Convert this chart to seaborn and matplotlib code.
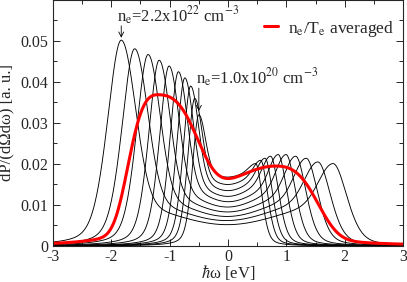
import numpy as np
import pandas as pd
import matplotlib
matplotlib.use("Agg")
import matplotlib.pyplot as plt
import seaborn as sns
from matplotlib.ticker import MultipleLocator

# peak positions / heights, outermost (n_e = 2.2e22) first
left_pos = [-1.83, -1.60, -1.37, -1.18, -1.01, -0.85, -0.74, -0.64, -0.57, -0.50]
left_height = [0.0502, 0.0481, 0.0467, 0.0453, 0.0439, 0.0425, 0.0410, 0.0390, 0.0360, 0.0320]
right_pos = [1.80, 1.54, 1.34, 1.16, 0.995, 0.86, 0.73, 0.635, 0.56, 0.475]
right_height = [0.0201, 0.0205, 0.0214, 0.0219, 0.0223, 0.0223, 0.0219, 0.0214, 0.0209, 0.0201]
dip_value = [0.0052, 0.0062, 0.0072, 0.0083, 0.0095, 0.0108, 0.0121, 0.0135, 0.0150, 0.0168]
shoulder = [0.0100, 0.0108, 0.0117, 0.0126, 0.0135, 0.0145, 0.0154, 0.0163, 0.0172, 0.0182]
peak_width = [0.24, 0.22, 0.20, 0.18, 0.165, 0.15, 0.14, 0.13, 0.12, 0.11]

# n_e/T_e averaged curve
avg_left = (-1.21, 0.0369)
avg_right = (0.82, 0.0195)
avg_dip = 0.0154
avg_shoulder = 0.0185
avg_width_in = 0.645
avg_width_out = (0.467, 0.67)


def outer_shape(u, p, eta):
    return (1 - eta) * np.exp(-0.5 * np.abs(u) ** p) + eta / (1 + (u / 1.18) ** 2)


def spectrum(x, xl, hl, xr, hr, dip, edge, s_in, s_l, s_r, p=2.0, eta=0.35):
    xm = 0.5 * (xl + xr)
    half = 0.5 * (xr - xl)
    t = np.clip((x - xm) / half, -1, 1)
    base = dip + (edge - dip) * np.sin(0.5 * np.pi * t) ** 2
    y = base + (hl - edge) * np.exp(-0.5 * np.abs((x - xl) / s_in) ** p) \
        + (hr - edge) * np.exp(-0.5 * np.abs((x - xr) / s_in) ** p)
    y = np.where(x < xl, hl * outer_shape((x - xl) / s_l, p, eta), y)
    y = np.where(x > xr, hr * outer_shape((x - xr) / s_r, p, eta), y)
    return y


x = np.linspace(-3, 3, 1501)
frames = []
for i in range(len(left_pos)):
    s = peak_width[i]
    y = spectrum(x, left_pos[i], left_height[i], right_pos[i], right_height[i],
                 dip_value[i], shoulder[i], s, s, s)
    frames.append(pd.DataFrame({"w": x, "S": y, "curve": i}))
df = pd.concat(frames, ignore_index=True)

avg = pd.DataFrame({"w": x, "S": spectrum(x, avg_left[0], avg_left[1], avg_right[0], avg_right[1],
                                          avg_dip, avg_shoulder, avg_width_in,
                                          avg_width_out[0], avg_width_out[1], p=3.2, eta=0.2)})

sns.set_style("ticks")
plt.rcParams["font.family"] = ["Liberation Serif", "DejaVu Serif"]
plt.rcParams["mathtext.fontset"] = "stix"
plt.rcParams["axes.unicode_minus"] = False

fig = plt.figure(figsize=(4.07, 2.82), dpi=100)
ax = fig.add_axes([0.1302, 0.1277, 0.8600, 0.8723])

sns.lineplot(data=df, x="w", y="S", units="curve", estimator=None, color="black",
             lw=0.65, ax=ax, legend=False)
sns.lineplot(data=avg, x="w", y="S", color="#ff0000", lw=2.2, ax=ax,
             label=r"n$_\mathrm{e}$/T$_\mathrm{e}$ averaged")

ax.set_xlim(-3, 3)
ax.set_ylim(0, 0.06)
ax.xaxis.set_major_locator(MultipleLocator(1))
ax.xaxis.set_minor_locator(MultipleLocator(0.5))
ax.set_yticks([0, 0.01, 0.02, 0.03, 0.04, 0.05])
ax.set_yticklabels(["0", "0.01", "0.02", "0.03", "0.04", "0.05"])
ax.yaxis.set_minor_locator(MultipleLocator(0.005))
ax.tick_params(which="both", direction="in", top=True, right=True, labelsize=11.5, width=0.7)
ax.tick_params(which="major", length=5)
ax.tick_params(which="minor", length=3)
ax.tick_params(axis="x", pad=2)
for sp in ax.spines.values():
    sp.set_linewidth(0.8)

ax.set_xlabel(r"$\hbar$ω [eV]", fontsize=12, labelpad=-1)
ax.set_ylabel("dP/(dΩdω) [a. u.]", fontsize=12, labelpad=4)

arrow = dict(arrowstyle="->,head_length=0.35,head_width=0.18", lw=0.6, color="black",
             shrinkA=0, shrinkB=0)
ax.text(-1.90, 0.0546, r"n$_\mathrm{e}$=2.2x10$^{22}$ cm$^{-3}$", fontsize=12)
ax.annotate("", xy=(-1.83, 0.0508), xytext=(-1.83, 0.0537), arrowprops=arrow)
ax.text(-0.55, 0.0396, r"n$_\mathrm{e}$=1.0x10$^{20}$ cm$^{-3}$", fontsize=12)
ax.annotate("", xy=(-0.50, 0.0329), xytext=(-0.50, 0.0385), arrowprops=arrow)

ax.legend(loc="upper right", bbox_to_anchor=(1.0, 0.96), frameon=False, fontsize=12.5,
          handlelength=0.8, handletextpad=0.6, borderaxespad=0.1)

fig.savefig("out.png", dpi=100)
